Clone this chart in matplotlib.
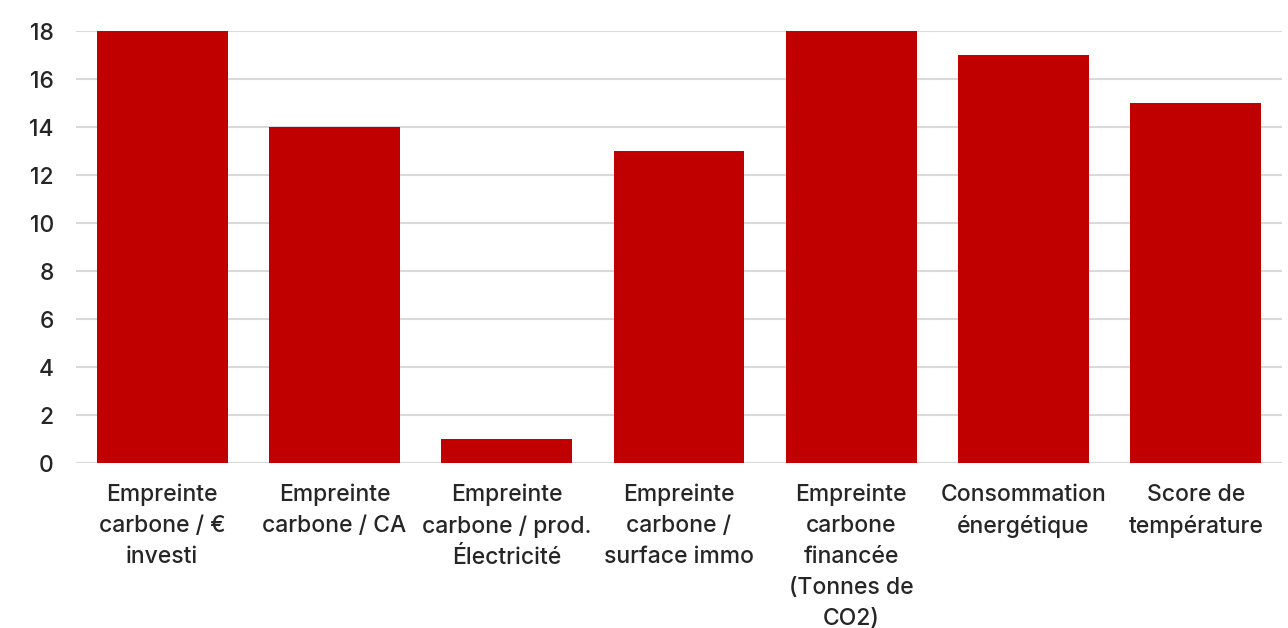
import matplotlib
matplotlib.use("Agg")
import matplotlib.pyplot as plt

categories = [
    "Empreinte\ncarbone / €\ninvesti",
    "Empreinte\ncarbone / CA",
    "Empreinte\ncarbone / prod.\nÉlectricité",
    "Empreinte\ncarbone /\nsurface immo",
    "Empreinte\ncarbone\nfinancée\n(Tonnes de\nCO2)",
    "Consommation\nénergétique",
    "Score de\ntempérature",
]
values = [18, 14, 1, 13, 18, 17, 15]
yticks = list(range(0, 20, 2))

plt.rcParams["font.family"] = ["Inter", "DejaVu Sans"]

fig = plt.figure(figsize=(12.88, 6.28), dpi=100)
ax = fig.add_axes([0.059, 0.2627, 0.9363, 0.6879])

x = list(range(len(categories)))
ax.bar(x, values, width=0.76, color="#C00000", zorder=3)

ax.set_xlim(-0.5, len(categories) - 0.5)
ax.set_ylim(0, 18)
ax.set_yticks(yticks)
ax.yaxis.grid(True, color="#d9d9d9", linewidth=1.5, zorder=0)
ax.set_axisbelow(True)

for s in ["top", "right", "left", "bottom"]:
    ax.spines[s].set_visible(False)
ax.axhline(0, color="#d9d9d9", linewidth=1.5, zorder=1)

ax.tick_params(axis="y", length=0, pad=16, labelsize=16.5, labelcolor="#262626")
ax.tick_params(axis="x", length=0, pad=15, labelsize=16.5, labelcolor="#262626")
ax.set_xticks(x)
ax.set_xticklabels(categories, linespacing=1.53, va="top", fontweight="medium")
for lbl in ax.get_yticklabels():
    lbl.set_fontweight("medium")

fig.savefig("out.png", dpi=100, facecolor="white")
